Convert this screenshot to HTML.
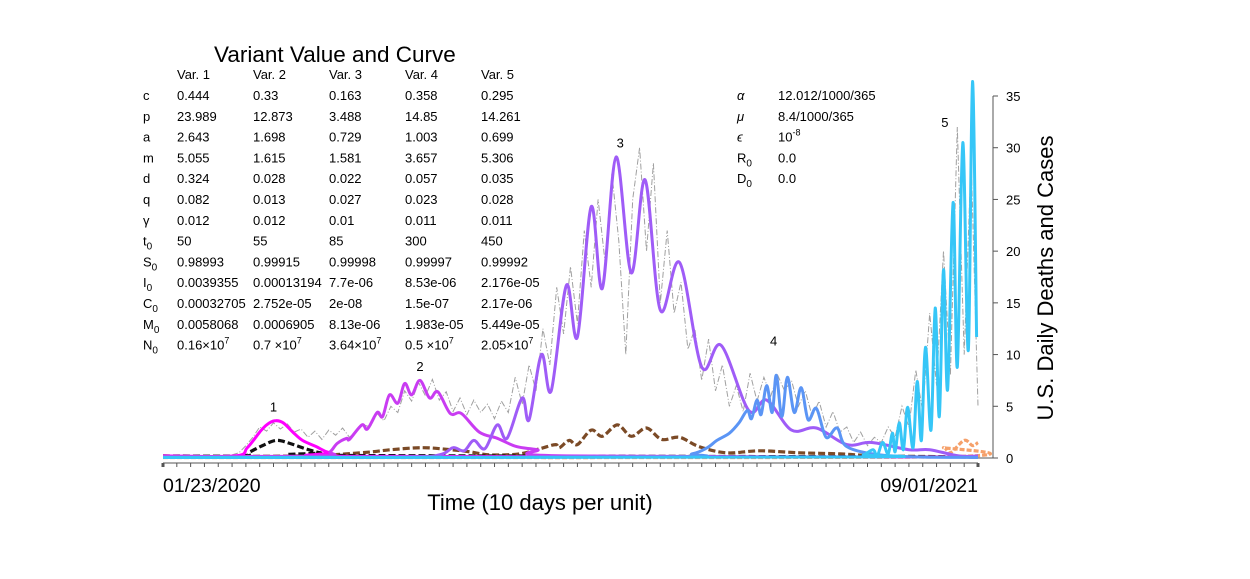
<!DOCTYPE html>
<html><head><meta charset="utf-8"><style>
body{margin:0;background:#fff;}
svg text{font-family:"Liberation Sans",Arial,sans-serif;fill:#000;}
</style></head><body>
<svg id="chart" width="1250" height="574" viewBox="0 0 1250 574" xmlns="http://www.w3.org/2000/svg">
<g id="table" font-size="13">
<text x="214" y="62" font-size="22.5">Variant Value and Curve</text>
</g>
<g id="params" font-size="13"></g>
<g id="series"></g>
<g id="axes"></g>
</svg>
<script>
const NS="http://www.w3.org/2000/svg";
// ---- data (x in days since 01/23/2020, y in daily deaths/cases) ----
const var1Days=[0,52,61,70,75,81,87,94,101,111,121,143,590];
const var1Vals=[0.2,0.2,1,2.5,3.2,3.6,3.4,2.5,1.7,1.1,0.5,0.15,0.1];
const deathsDays=[0,56,63,72,82,92,103,114,128,590];
const deathsVals=[0.2,0.2,0.6,1.2,1.7,1.4,0.9,0.5,0.25,0.1];
const var2Days=[0,114,121,126,133,135,144,148,155,159,164,170,175,180,186,193,199,208,216,229,242,256,271,292,590];
const var2Vals=[0.15,0.2,0.6,1.4,1.9,1.8,3.2,2.8,4.4,4.0,6.1,5.3,7.2,6.1,7.5,5.8,6.4,4.3,4.3,2.5,1.9,1.1,0.8,0.2,0.1];
const var3Days=[0,171,200,210,218,225,233,242,249,260,265,274,281,292,300,310,318,328,339,349,360,374,390,404,424,437,455,473,495,513,540,555,576,590];
const var3Vals=[0.1,0.1,0.3,1.0,0.7,1.7,0.9,3.2,1.9,5.8,3.7,10,6.5,16.7,11.7,24.3,16.4,29.1,17.9,26.9,14.3,18.9,8.8,10.9,4.6,5.6,2.7,2.9,1.3,1.5,0.8,0.8,0.2,0.2];
const var4Days=[0,360,383,394,401,410,417,423,426,430,433,437,441,444,448,452,457,462,467,473,480,488,495,519,548,590];
const var4Vals=[0.05,0.1,0.4,1.0,1.7,2.4,3.4,4.6,3.8,5.6,4.2,7.0,4.4,8.0,4.0,7.8,4.4,6.8,3.7,4.8,2.0,2.9,1.1,0.3,0.1,0.05];
const var5Days=[0,497,507,514,517,521,525,528,530,533,536,539,543,546,549,552,556,559,562,565,568,572,575,579,583,586,589];
const var5Vals=[0.05,0.1,0.3,0.8,0.2,1.5,0.4,2.4,0.6,3.4,0.8,4.9,1.0,7.4,1.7,10.7,2.7,14.5,4.0,18.2,6.6,24.7,8.8,30.5,10.4,36.4,11.7];
const brownDays=[0,99,143,165,188,208,222,237,258,273,284,287,294,300,310,318,329,339,350,361,374,388,408,432,461,490,519,590];
const brownVals=[0.15,0.2,0.5,0.8,1.0,0.8,0.6,0.3,0.4,0.9,1.3,1.0,1.7,1.3,2.7,2.1,3.2,2.1,2.9,1.8,2.0,1.1,0.5,0.7,0.5,0.4,0.2,0.1];
const orangeDays=[0,555,565,570,580,586,590];
const orangeVals=[0.05,0.1,1.0,0.5,1.7,1.2,1.5];
const greyStart=50, greyStep=5;
const greyVals=[0.3,0.5,1.2,2.0,3.0,2.6,3.4,2.8,3.3,2.5,
2.8,2.0,2.6,1.8,2.7,2.2,2.9,2.0,2.6,3.2,
3.0,4.3,3.6,5.0,4.4,6.5,5.5,7.3,6.0,7.6,
5.6,6.4,4.5,5.8,4.2,5.6,4.4,5.2,3.8,5.5,
4.4,7.8,5.2,9.0,6.5,12.5,9.0,16.5,12.0,18.5,
13.0,22.0,16.5,25.0,19.0,27.5,21.0,10.0,25.0,30.0,
20.0,28.5,15.0,22.0,14.0,17.0,10.5,12.5,7.5,11.5,
6.5,9.0,5.0,7.0,4.5,8.2,5.5,7.8,6.0,8.0,
6.5,7.5,5.0,6.5,4.0,5.5,3.0,4.5,2.5,3.0,
1.5,2.5,1.2,2.0,1.5,3.0,2.0,5.0,3.0,8.5,
4.5,14.0,7.0,20.0,8.0,32.0,10.0,29.0,5.0];
const yTicks=[0,5,10,15,20,25,30,35];
const peakLabels=["1","2","3","4","5"];
const peakDays=[80,186,331,442,566];
const peakVals=[4.5,8.4,30.0,10.9,32.0];
const rowLabels=["c","p","a","m","d","q","γ","t","S","I","C","M","N"];
const rowSub=[false,false,false,false,false,false,false,true,true,true,true,true,true];
const colHeads=["Var. 1","Var. 2","Var. 3","Var. 4","Var. 5"];
const tableVals=[
["0.444","0.33","0.163","0.358","0.295"],
["23.989","12.873","3.488","14.85","14.261"],
["2.643","1.698","0.729","1.003","0.699"],
["5.055","1.615","1.581","3.657","5.306"],
["0.324","0.028","0.022","0.057","0.035"],
["0.082","0.013","0.027","0.023","0.028"],
["0.012","0.012","0.01","0.011","0.011"],
["50","55","85","300","450"],
["0.98993","0.99915","0.99998","0.99997","0.99992"],
["0.0039355","0.00013194","7.7e-06","8.53e-06","2.176e-05"],
["0.00032705","2.752e-05","2e-08","1.5e-07","2.17e-06"],
["0.0058068","0.0006905","8.13e-06","1.983e-05","5.449e-05"]];
const nMant=["0.16","0.7 ","3.64","0.5 ","2.05"];
// ---- scales ----
const X0=163,X1=978,D1=590,Y0=458,VMAX=35,YTOP=96;
const xs=d=>X0+d*(X1-X0)/D1;
const ys=v=>Y0-v*(Y0-YTOP)/VMAX;
function el(tag,attrs,parent,txt){const e=document.createElementNS(NS,tag);for(const k in attrs)e.setAttribute(k,attrs[k]);if(txt!==undefined)e.textContent=txt;parent.appendChild(e);return e;}
function smooth(days,vals){
  const p=days.map((d,i)=>[xs(d),ys(vals[i])]);
  const cl=y=>Math.min(y,Y0);
  let s="M"+p[0][0].toFixed(1)+","+p[0][1].toFixed(1);
  for(let i=0;i<p.length-1;i++){
    const a=p[Math.max(0,i-1)],b=p[i],c=p[i+1],d=p[Math.min(p.length-1,i+2)];
    const c1=[b[0]+(c[0]-a[0])/6,cl(b[1]+(c[1]-a[1])/6)],c2=[c[0]-(d[0]-b[0])/6,cl(c[1]-(d[1]-b[1])/6)];
    s+=" C"+c1[0].toFixed(1)+","+c1[1].toFixed(1)+" "+c2[0].toFixed(1)+","+c2[1].toFixed(1)+" "+c[0].toFixed(1)+","+c[1].toFixed(1);
  }
  return s;
}
const S=document.getElementById('series');
let gp="";greyVals.forEach((v,i)=>{gp+=(i?" L":"M")+xs(greyStart+i*greyStep).toFixed(1)+","+ys(v).toFixed(1);});
const g=el('path',{d:gp,fill:"none",stroke:"#a0a0a0","stroke-width":1,"stroke-dasharray":"6,2,1,2"},S);


function line(days,vals,color,w,dash,name){
  const e=el('path',{d:smooth(days,vals),fill:"none",stroke:color,"stroke-width":w,"stroke-linejoin":"round"},S);
  if(dash)e.setAttribute('stroke-dasharray',dash);
  
  
}
line(orangeDays,orangeVals,"#f5a06a",3.2,"5,2","variant5-deaths-line");
const cyd=el('path',{d:"M"+X0+","+ys(0.05)+" L"+X1+","+ys(0.05),stroke:"#33c5f5","stroke-width":2,"stroke-dasharray":"2,5",fill:"none"},S);


line(brownDays,brownVals,"#7b4a26",3.2,"7,3","variant3-deaths-line");
line(deathsDays,deathsVals,"#111",3.2,"7,3","variant1-deaths-line");
line(var1Days,var1Vals,"#ff00ff",3,null,"variant1-cases-line");
line(var2Days,var2Vals,"#c93cf2",3,null,"variant2-cases-line");
line(var3Days,var3Vals,"#9f5cf7",3,null,"variant3-cases-line");
line(var4Days,var4Vals,"#5b95f5",3,null,"variant4-cases-line");
line(var5Days,var5Vals,"#36c6f7",3,null,"variant5-cases-line");
peakLabels.forEach((t,i)=>{
  const e=el('text',{x:xs(peakDays[i]),y:ys(peakVals[i]),"font-size":13,"text-anchor":"middle"},S,t);
  
  
});
// ---- axes ----
const A=document.getElementById('axes');
const xa=el('line',{x1:X0,y1:463,x2:X1,y2:463,stroke:"#555","stroke-width":1},A);


for(let d=0;d<=D1;d+=10){
  const t=el('line',{x1:xs(d),y1:463,x2:xs(d),y2:467,stroke:"#555","stroke-width":(d===0||d===590)?3:1},A);
  
  
}
const xl1=el('text',{x:163,y:492,"font-size":19.5},A,"01/23/2020");


const xl2=el('text',{x:978,y:492,"font-size":19.5,"text-anchor":"end"},A,"09/01/2021");


const xt=el('text',{x:540,y:510,"font-size":22,"text-anchor":"middle"},A,"Time (10 days per unit)");


const ya=el('line',{x1:993,y1:ys(35),x2:993,y2:ys(0),stroke:"#555","stroke-width":1},A);


const yb=el('line',{x1:X1,y1:Y0,x2:993,y2:Y0,stroke:"#555","stroke-width":1},A);


yTicks.forEach(v=>{
  const t=el('line',{x1:993,y1:ys(v),x2:998,y2:ys(v),stroke:"#555","stroke-width":1},A);
  
  
  const l=el('text',{x:1006,y:ys(v)+5,"font-size":13},A,String(v));
  
  
});
const yt=el('text',{x:1053,y:278,"font-size":22,"text-anchor":"middle",transform:"rotate(-90 1053 278)"},A,"U.S. Daily Deaths and Cases");


// ---- table ----
const T=document.getElementById('table');
const colX=[177,253,329,405,481];
colHeads.forEach((h,i)=>{const e=el('text',{x:colX[i],y:79},T,h);});
rowLabels.forEach((r,i)=>{
  const y=100+i*20.8;
  const e=el('text',{x:143,y:y},T);
  
  
  e.textContent=r;
  if(rowSub[i]){el('tspan',{dy:4,"font-size":10},e,"0");}
  if(i<12){tableVals[i].forEach((v,j)=>{const c=el('text',{x:colX[j],y:y},T,v);});}
  else{nMant.forEach((m,j)=>{const c=el('text',{x:colX[j],y:y,"xml:space":"preserve"},T);c.textContent=m+(m.endsWith(" ")?"  ":"")+"×10";el('tspan',{dy:-6,"font-size":9},c,"7");});}
});
// ---- params ----
const P=document.getElementById('params');
const pl=["α","μ","ϵ","R","D"],pv=["12.012/1000/365","8.4/1000/365","10","0.0","0.0"];
pl.forEach((l,i)=>{
  const y=100+i*20.8;
  const a=el('text',{x:737,y:y,"font-style":i<3?"italic":"normal"},P,l);
  
  
  if(i>=3)el('tspan',{dy:4,"font-size":10},a,"0");
  const b=el('text',{x:778,y:y},P,pv[i]);
  
  
  if(i===2)el('tspan',{dy:-6,"font-size":9},b,"-8");
});
</script>
</body></html>
